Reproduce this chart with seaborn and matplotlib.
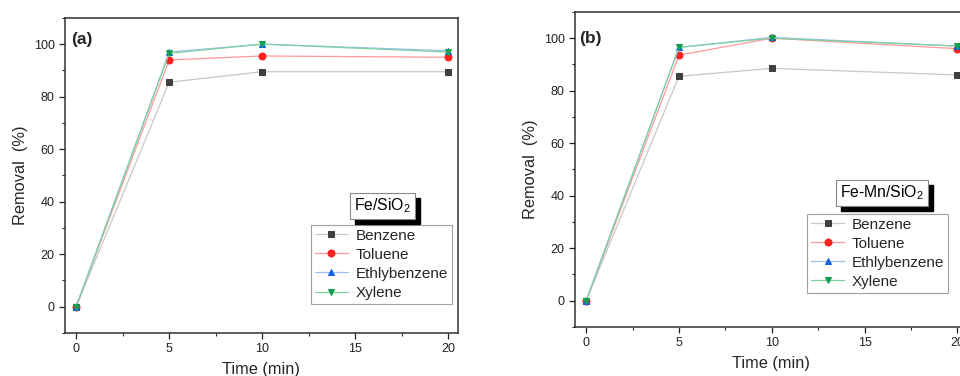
import matplotlib
matplotlib.use("Agg")
import matplotlib.pyplot as plt
import seaborn as sns
import pandas as pd
from matplotlib.ticker import MultipleLocator
from matplotlib.patches import Rectangle

time_min = [0, 5, 10, 20]
series_names = ["Benzene", "Toluene", "Ethlybenzene", "Xylene"]

fe_benzene = [0, 85.5, 89.5, 89.5]
fe_toluene = [0, 94.0, 95.5, 95.0]
fe_ethylbenzene = [0, 97.0, 100.0, 97.5]
fe_xylene = [0, 96.5, 100.0, 97.0]

femn_benzene = [0, 85.5, 88.5, 86.0]
femn_toluene = [0, 93.5, 100.0, 96.0]
femn_ethylbenzene = [0, 96.5, 100.3, 97.0]
femn_xylene = [0, 96.5, 100.0, 97.0]

panel_labels = ["(a)", "(b)"]
catalysts = ["Fe/SiO$_2$", "Fe-Mn/SiO$_2$"]

sns.set_style("ticks")
plt.rcParams["font.family"] = ["Liberation Sans", "DejaVu Sans"]
plt.rcParams["mathtext.fontset"] = "custom"
plt.rcParams["mathtext.rm"] = "Liberation Sans"

marker_colors = ["#3f3f3f", "#ff2020", "#1060e0", "#10a050"]
line_colors = ["#c8c8c8", "#ff9a9a", "#9ec0f0", "#80d0a0"]
markers = ["s", "o", "^", "v"]

fig = plt.figure(figsize=(9.6, 3.76), dpi=100)
axes = [fig.add_axes([0.0677, 0.1144, 0.409, 0.838]),
        fig.add_axes([0.599, 0.1303, 0.408, 0.838])]

panels = [
    [fe_benzene, fe_toluene, fe_ethylbenzene, fe_xylene],
    [femn_benzene, femn_toluene, femn_ethylbenzene, femn_xylene],
]
title_pos = [(0.809, 0.403), (0.783, 0.425)]
legend_pos = [(0.626, 0.343), (0.592, 0.359)]
label_pos = [(0.015, 0.93), (0.01, 0.917)]

title_texts = []
for ax, data, cat, plab, tpos, lpos, labpos in zip(axes, panels, catalysts, panel_labels,
                                                    title_pos, legend_pos, label_pos):
    for name, vals, mc, lc, mk in zip(series_names, data, marker_colors, line_colors, markers):
        df = pd.DataFrame({"Time": time_min, "Removal": vals})
        sns.lineplot(data=df, x="Time", y="Removal", ax=ax, color=lc, linewidth=0.9,
                     marker=mk, markersize=5, markerfacecolor=mc, markeredgecolor=mc,
                     label=name)
    ax.set_xlim(-0.6, 20.5)
    ax.set_ylim(-10, 110)
    ax.xaxis.set_major_locator(MultipleLocator(5))
    ax.xaxis.set_minor_locator(MultipleLocator(2.5))
    ax.yaxis.set_major_locator(MultipleLocator(20))
    ax.yaxis.set_minor_locator(MultipleLocator(10))
    ax.tick_params(which="major", direction="out", length=4, width=0.9, labelsize=9,
                   colors="#222222")
    ax.tick_params(which="minor", direction="out", length=2.5, width=0.8)
    for sp in ax.spines.values():
        sp.set_visible(True)
        sp.set_linewidth(1.1)
        sp.set_color("#333333")
    ax.set_xlabel("Time (min)", fontsize=11.8, labelpad=5)
    ax.set_ylabel("Removal  (%)", fontsize=11.8, labelpad=4)
    ax.text(labpos[0], labpos[1], plab, transform=ax.transAxes, fontsize=12.5,
            fontweight="bold", ha="left", va="center")
    leg = ax.legend(loc="upper left", bbox_to_anchor=lpos, fontsize=11, frameon=True,
                    fancybox=False, edgecolor="#888888", labelspacing=0.33,
                    handlelength=2.2, handletextpad=0.5, borderpad=0.25,
                    borderaxespad=0)
    leg.get_frame().set_linewidth(0.8)
    t = ax.text(tpos[0], tpos[1], cat, transform=ax.transAxes, fontsize=11.3, color="black",
                ha="center", va="center", zorder=6,
                bbox=dict(boxstyle="square,pad=0.25", fc="white", ec="#888888", lw=0.8))
    title_texts.append((ax, t))

fig.canvas.draw()
inv = fig.transFigure.inverted()
off = 5
for ax, t in title_texts:
    bb = t.get_bbox_patch().get_window_extent()
    (x0, y0) = inv.transform((bb.x0 + off, bb.y0 - off))
    (x1, y1) = inv.transform((bb.x1 + off, bb.y1 - off))
    ax.add_patch(Rectangle((x0, y0), x1 - x0, y1 - y0, transform=fig.transFigure,
                           fc="black", ec="black", zorder=5.5, clip_on=False))

fig.savefig("out.png", dpi=100)
